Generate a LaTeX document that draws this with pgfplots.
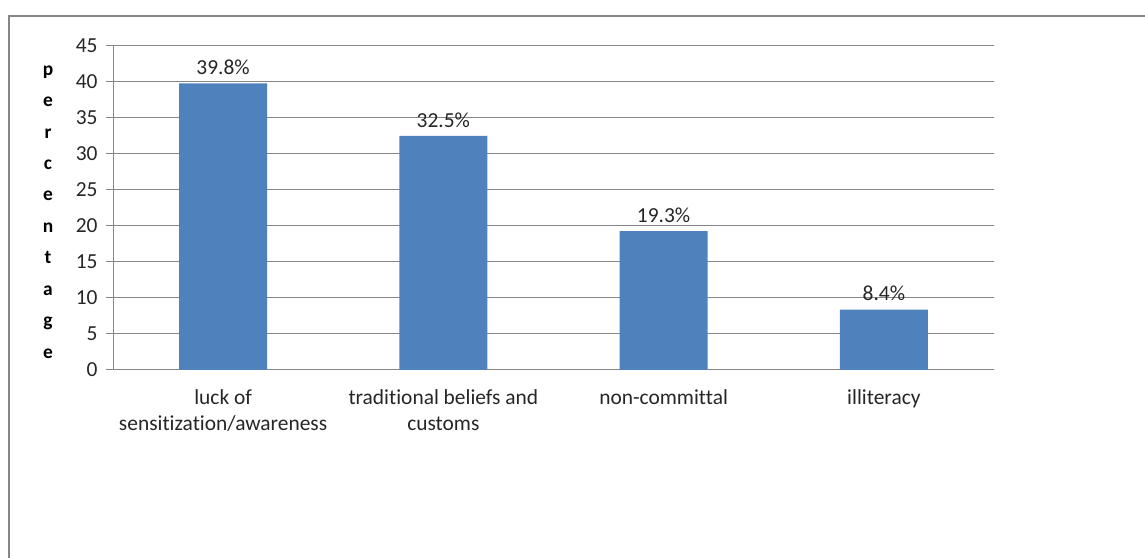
\documentclass[border=0pt]{standalone}
\usepackage{pgfplots}
\pgfplotsset{compat=1.18}
\usepackage{fontspec}
\setmainfont{Carlito}[Ligatures=NoCommon]
\definecolor{gridgray}{RGB}{134,134,134}
\definecolor{barblue}{RGB}{79,129,189}
\begin{document}
\begin{tikzpicture}
\path[use as bounding box] (0bp,0bp) rectangle (1145bp,558bp);
\draw[gridgray, line width=2bp] (9bp,-5bp) -- (9bp,542bp) -- (1150bp,542bp);
\begin{axis}[
  at={(113bp,188bp)}, anchor=south west,
  scale only axis, width=881bp, height=324bp,
  ymin=0, ymax=45, ytick={0,5,...,45},
  xmin=-0.5, xmax=3.5, xtick={0,1,2,3},
  xticklabels={{luck of\\sensitization/awareness},{traditional beliefs and\\customs},{non-committal},{illiteracy}},
  axis x line*=bottom, axis y line*=left,
  axis line style={gridgray, line width=1bp, -},
  ymajorgrids, grid style={gridgray, line width=1bp},
  major tick length=7bp,
  tick align=outside,
  y tick style={gridgray, line width=1bp},
  x tick style={draw=none},
  extra x ticks={-0.5,0.5,1.5,2.5,3.5},
  extra x tick labels={},
  extra x tick style={grid=none, tick style={draw=gridgray, line width=1bp}, major tick length=7bp},
  /pgf/number format/assume math mode=true,
  tick label style={font=\fontsize{21.5}{26.5}\selectfont, text=black!85},
  xticklabel style={align=center, anchor=north, yshift=-9bp},
  yticklabel style={xshift=-5bp},
  every axis y label/.style={at={(rel axis cs:0,0.5)}, anchor=center, xshift=-65bp, yshift=-4bp, align=center, font=\bfseries\fontsize{19.5}{31.6}\selectfont},
  ylabel={p\\e\\r\\c\\e\\n\\t\\a\\g\\e},
  ybar, bar width=88bp,
  nodes near coords={\pgfmathprintnumber[fixed,precision=1,fixed zerofill]{\pgfplotspointmeta}\%},
  nodes near coords style={font=\fontsize{21.5}{26}\selectfont, text=black!85, yshift=5bp},
]
\addplot[fill=barblue, draw=none] coordinates {(0,39.8) (1,32.5) (2,19.3) (3,8.4)};
\end{axis}
\end{tikzpicture}
\end{document}
